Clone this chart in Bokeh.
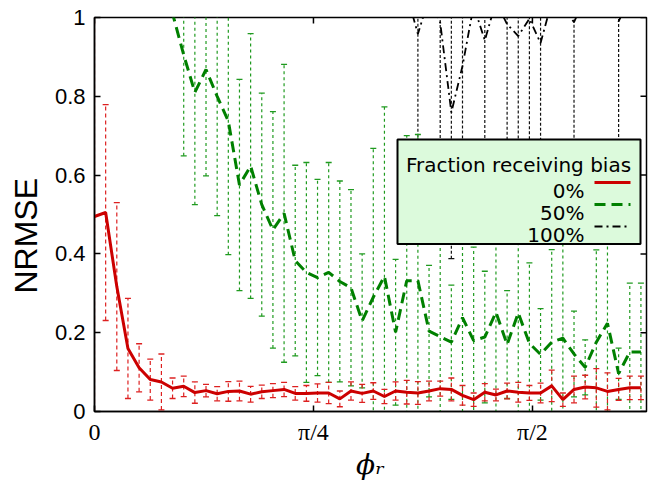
import math
import numpy as np
from bokeh.plotting import figure
from bokeh.models import Range1d, FixedTicker, Label, BoxAnnotation, Arrow, Title
from bokeh.embed import file_html
from bokeh.resources import INLINE

# ---------------- data ----------------
phi_r = [0.00, 0.04, 0.08, 0.12, 0.16, 0.20, 0.24, 0.28, 0.32, 0.36,
         0.40, 0.44, 0.48, 0.52, 0.56, 0.60, 0.64, 0.68, 0.72, 0.76,
         0.80, 0.84, 0.88, 0.92, 0.96, 1.00, 1.04, 1.08, 1.12, 1.16,
         1.20, 1.24, 1.28, 1.32, 1.36, 1.40, 1.44, 1.48, 1.52, 1.56,
         1.60, 1.64, 1.68, 1.72, 1.76, 1.80, 1.84, 1.88, 1.92, 1.96]

nrmse_0 = [0.495, 0.505, 0.317, 0.160, 0.111, 0.081, 0.075, 0.059, 0.064, 0.048,
           0.053, 0.045, 0.051, 0.052, 0.044, 0.050, 0.053, 0.056, 0.046, 0.046,
           0.047, 0.047, 0.032, 0.052, 0.046, 0.052, 0.038, 0.052, 0.049, 0.047,
           0.052, 0.058, 0.056, 0.041, 0.030, 0.049, 0.042, 0.052, 0.049, 0.047,
           0.047, 0.065, 0.030, 0.056, 0.062, 0.060, 0.051, 0.056, 0.060, 0.060]
err_0 = [0.510, 0.274, 0.213, 0.127, 0.061, 0.052, 0.071, 0.026, 0.026, 0.027,
         0.016, 0.018, 0.025, 0.025, 0.020, 0.017, 0.018, 0.018, 0.017, 0.020,
         0.023, 0.027, 0.020, 0.023, 0.023, 0.021, 0.018, 0.023, 0.030, 0.029,
         0.025, 0.019, 0.029, 0.025, 0.017, 0.022, 0.015, 0.020, 0.025, 0.019,
         0.025, 0.040, 0.017, 0.034, 0.030, 0.049, 0.047, 0.028, 0.030, 0.030]

nrmse_50 = [1.90, 1.80, 1.60, 1.45, 1.30, 1.20, 1.10, 1.01, 0.905, 0.810,
            0.868, 0.800, 0.737, 0.575, 0.623, 0.525, 0.461, 0.503, 0.383, 0.353,
            0.340, 0.353, 0.330, 0.314, 0.230, 0.290, 0.343, 0.201, 0.332, 0.332,
            0.204, 0.190, 0.176, 0.238, 0.180, 0.189, 0.252, 0.170, 0.250, 0.173,
            0.145, 0.176, 0.186, 0.146, 0.112, 0.176, 0.224, 0.096, 0.151, 0.151]
err_50 = [0.30, 0.30, 0.30, 0.30, 0.30, 0.30, 0.30, 0.30, 0.256, 0.285,
          0.270, 0.303, 0.339, 0.268, 0.336, 0.283, 0.300, 0.378, 0.242, 0.279,
          0.249, 0.279, 0.255, 0.249, 0.170, 0.378, 0.430, 0.185, 0.368, 0.371,
          0.167, 0.270, 0.145, 0.300, 0.237, 0.167, 0.300, 0.137, 0.300, 0.204,
          0.116, 0.235, 0.300, 0.109, 0.070, 0.234, 0.300, 0.065, 0.175, 0.175]

nrmse_100 = [1.90, 1.90, 1.85, 1.80, 1.80, 1.75, 1.70, 1.65, 1.60, 1.60,
             1.55, 1.50, 1.50, 1.45, 1.40, 1.40, 1.35, 1.30, 1.30, 1.30,
             1.25, 1.25, 1.20, 1.20, 1.15, 1.15, 1.12, 1.10, 1.06, 0.958,
             1.05, 0.987, 0.759, 0.877, 1.03, 0.942, 1.04, 0.983, 0.953, 0.997,
             0.935, 1.04, 1.03, 0.988, 1.05, 1.04, 1.03, 0.990, 1.05, 1.06]
err_100 = [0.40, 0.40, 0.40, 0.40, 0.40, 0.40, 0.40, 0.40, 0.40, 0.40,
           0.40, 0.40, 0.40, 0.40, 0.40, 0.40, 0.40, 0.40, 0.40, 0.40,
           0.40, 0.40, 0.40, 0.40, 0.40, 0.40, 0.40, 0.40, 0.40, 0.40,
           0.40, 0.42, 0.371, 0.40, 0.40, 0.40, 0.40, 0.42, 0.40, 0.42,
           0.40, 0.40, 0.40, 0.42, 0.40, 0.40, 0.40, 0.42, 0.40, 0.40]

x_ticks = [0.0, math.pi / 4, math.pi / 2]
x_tick_labels = ["0", "π/4", "π/2"]
y_ticks = [0.0, 0.2, 0.4, 0.6, 0.8, 1.0]
y_tick_labels = ["0", "0.2", "0.4", "0.6", "0.8", "1"]

series_names = ["0%", "50%", "100%"]
legend_title = "Fraction receiving bias"
x_title = "ϕᵣ"
y_title = "NRMSE"

# ---------------- layout helpers ----------------
X0, X1 = 0.0, 1.98
FL, FR, FT, FB = 94, 646, 17, 411   # frame pixel edges


def px2x(px):
    return X0 + (px - FL) / (FR - FL) * (X1 - X0)


def px2y(py):
    return (FB - py) / (FB - FT)


p = figure(width=656, height=483, output_backend="svg", toolbar_location=None,
           x_range=Range1d(X0, X1), y_range=Range1d(0, 1),
           min_border_left=FL, min_border_right=656 - FR,
           min_border_top=FT, min_border_bottom=483 - FB)
p.xgrid.visible = False
p.ygrid.visible = False
p.outline_line_color = "black"
p.outline_line_width = 1.5
p.background_fill_color = "white"
p.border_fill_color = "white"

xa = p.xaxis[0]
ya = p.yaxis[0]
xa.ticker = FixedTicker(ticks=x_ticks)
xa.major_label_overrides = dict(zip(x_ticks, x_tick_labels))
ya.ticker = FixedTicker(ticks=y_ticks)
ya.major_label_overrides = dict(zip(y_ticks, y_tick_labels))
for ax in (xa, ya):
    ax.major_tick_in = 6
    ax.major_tick_out = 0
    ax.minor_tick_line_color = None
    ax.axis_line_color = "black"
    ax.axis_line_width = 1.5
    ax.major_tick_line_width = 1.5
    ax.major_label_text_color = "black"
xa.major_label_text_font = "Liberation Serif"
xa.major_label_text_font_size = "24px"
xa.major_label_standoff = 7
xa.axis_label = x_title
xa.axis_label_text_font = "DejaVu Serif"
xa.axis_label_text_font_style = "italic"
xa.axis_label_text_font_size = "28px"
xa.axis_label_text_color = "black"
xa.axis_label_standoff = 0
ya.major_label_text_font = "Liberation Sans"
ya.major_label_text_font_size = "22px"
ya.major_label_standoff = 9

# y title, shifted along the axis like the reference
p.add_layout(Title(text=y_title, align="left", offset=118, vertical_align="top",
                   text_font="Liberation Sans", text_font_size="32px",
                   text_font_style="normal", text_color="black", standoff=12), "left")

# mirrored inward ticks on the right and top edges of the frame
dx = 6 / (FR - FL) * (X1 - X0)
dy = 6 / (FB - FT)
p.segment(x0=[X1] * len(y_ticks), y0=y_ticks, x1=[X1 - dx] * len(y_ticks), y1=y_ticks,
          line_color="black", line_width=1.5)
p.segment(x0=x_ticks, y0=[1.0] * len(x_ticks), x1=x_ticks, y1=[1.0 - dy] * len(x_ticks),
          line_color="black", line_width=1.5)

# ---------------- series ----------------
styles = [
    dict(mean=nrmse_0, err=err_0, line_color="#cc0000", line_dash="solid", line_width=3,
         bar_color="#dd2020", bar_dash="4 3"),
    dict(mean=nrmse_50, err=err_50, line_color="#008000", line_dash="11 6", line_width=3,
         bar_color="#1f9a1f", bar_dash="3 3"),
    dict(mean=nrmse_100, err=err_100, line_color="#000000", line_dash="8 4 2 4", line_width=1.8,
         bar_color="#111111", bar_dash="3 2"),
]

x = np.array(phi_r)
# error bars (drawn only where the point itself lies inside the y range)
for st in reversed(styles):
    m = np.array(st["mean"])
    e = np.array(st["err"])
    keep = (m >= 0) & (m <= 1)
    xs, lo, hi = x[keep], (m - e)[keep], (m + e)[keep]
    p.segment(x0=xs, y0=lo, x1=xs, y1=hi, line_color=st["bar_color"],
              line_width=1.2, line_dash=st["bar_dash"])
    p.scatter(x=xs, y=lo, marker="dash", size=6, line_color=st["bar_color"], line_width=1.3)
    p.scatter(x=xs, y=hi, marker="dash", size=6, line_color=st["bar_color"], line_width=1.3)

for st in reversed(styles):
    p.line(x=x, y=np.array(st["mean"]), line_color=st["line_color"],
           line_width=st["line_width"], line_dash=st["line_dash"])

# ---------------- legend (drawn by hand: labels right, samples right) ----------------
box = BoxAnnotation(left=px2x(397), right=px2x(640), top=px2y(139), bottom=px2y(243.5),
                    fill_color="#dcfadc", fill_alpha=1.0, line_color="black", line_width=2,
                    line_alpha=1.0)
p.add_layout(box)
p.add_layout(Label(x=px2x(518), y=px2y(164), text=legend_title, text_align="center",
                   text_baseline="alphabetic", text_font="DejaVu Sans",
                   text_font_size="20px", text_color="black"))
for k, st in enumerate(styles):
    base = 190 + 22 * k
    p.add_layout(Label(x=px2x(584), y=px2y(base), text=series_names[k], text_align="right",
                       text_baseline="alphabetic", text_font="DejaVu Sans",
                       text_font_size="20px", text_color="black"))
    p.add_layout(Arrow(start=None, end=None, x_start=px2x(594), x_end=px2x(630),
                       y_start=px2y(base - 8), y_end=px2y(base - 8),
                       line_color=st["line_color"], line_width=st["line_width"],
                       line_dash=st["line_dash"]))

open("out.html", "w").write(file_html(p, INLINE))
